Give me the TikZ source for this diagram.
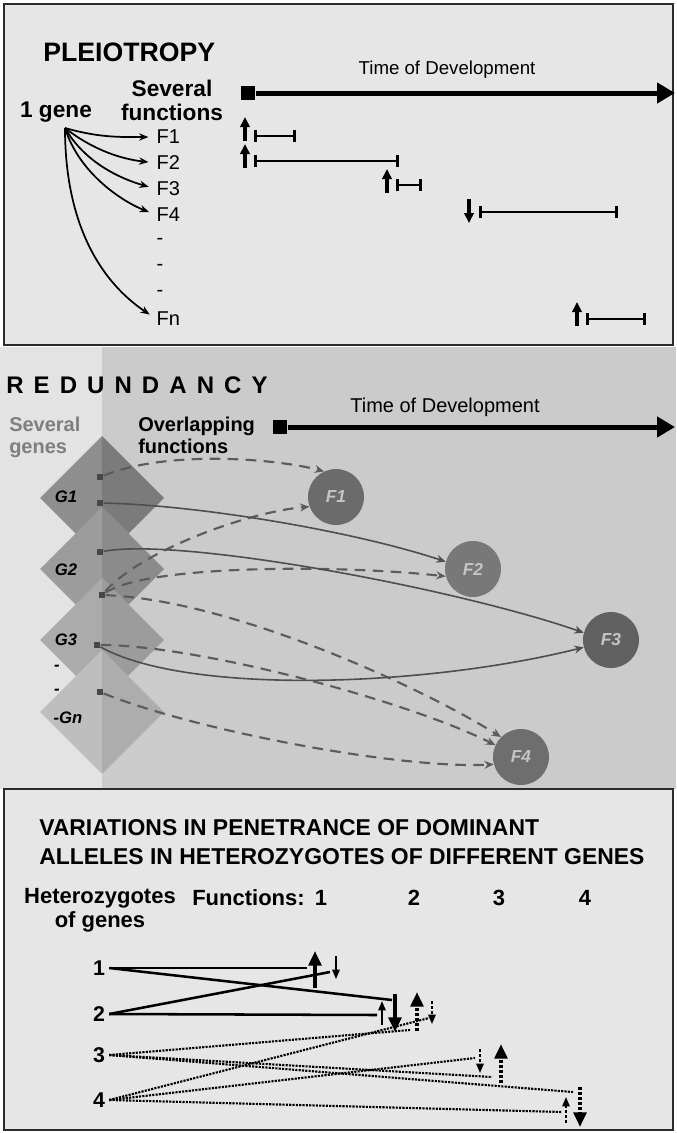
\documentclass[tikz,border=0pt]{standalone}
\usepackage{fontspec}
\setmainfont{Liberation Sans}
\newfontfamily\spacedfont[LetterSpace=42]{Liberation Sans}
\usepackage{tikz}
\usetikzlibrary{arrows.meta, positioning, shapes.geometric}
\definecolor{paper}{HTML}{E6E6E6}
\definecolor{stripbg}{HTML}{E3E3E3}
\definecolor{redbg}{HTML}{CBCBCB}
\definecolor{rim}{HTML}{2B2B2B}
\definecolor{genegray}{HTML}{7F7F7F}
\definecolor{fntext}{HTML}{C4C4C4}
\definecolor{wire}{HTML}{5C5C5C}
\definecolor{gal}{HTML}{8E8E8E}\definecolor{gar}{HTML}{7B7B7B}
\definecolor{gbl}{HTML}{9C9C9C}\definecolor{gbr}{HTML}{8B8B8B}
\definecolor{gcl}{HTML}{ABABAB}\definecolor{gcr}{HTML}{9C9C9C}
\definecolor{gnl}{HTML}{BEBEBE}\definecolor{gnr}{HTML}{ADADAD}
\newcommand{\fsz}[2]{\fontsize{#1}{#2}\selectfont}
\tikzset{
  panel/.style    = {fill=paper, draw=rim, line width=1.5pt},
  hd/.style       = {font=\fsz{20}{24}\bfseries, inner sep=0pt, anchor=west},
  toplab/.style   = {font=\fsz{17}{18}\bfseries, inner sep=0pt},
  sidelab/.style  = {font=\fsz{15}{16.5}\bfseries, inner sep=0pt, align=left, anchor=west},
  tlab/.style     = {font=\fsz{15}{18}, inner sep=0pt},
  tstart/.style   = {rectangle, fill=black, minimum size=11pt, inner sep=0pt},
  tbar/.style     = {line width=3.75pt, -{Triangle[length=13.5pt,width=15pt]}},
  flab/.style     = {font=\fsz{15}{18}, inner sep=0pt, text width=20pt, align=left,
                     minimum height=19.1pt},
  pleio/.style    = {line width=1.3pt, shorten >=6pt, -{Stealth[length=7pt,width=5.5pt]}},
  onset/.style    = {line width=2.4pt, -{Triangle[length=7.5pt,width=7pt]}},
  fbar/.style     = {line width=1.6pt,
                     {Bar[width=9pt,line width=2.2pt]}-{Bar[width=9pt,line width=2.2pt]}},
  gene/.style 2 args = {diamond, aspect=1, minimum width=93pt, minimum height=93pt,
                     inner sep=0pt, fill=#1,
                     path picture={\fill[#2] (path picture bounding box.north)
                       rectangle (path picture bounding box.south east);}},
  glab/.style     = {font=\fsz{12.5}{15}\bfseries\itshape, inner sep=0pt},
  port/.style     = {rectangle, fill=black!72, minimum size=5pt, inner sep=0pt},
  func/.style     = {circle, minimum size=42pt, inner sep=0pt, text=fntext,
                     font=\fsz{13}{15}\bfseries\itshape},
  dlink/.style    = {draw=wire, line width=1.6pt, dash pattern=on 8pt off 5.5pt,
                     -{Stealth[length=7pt,width=6pt]}},
  slink/.style    = {draw=wire!85!black, line width=1.2pt, -{Stealth[length=7pt,width=6pt]}},
  titlelab/.style = {font=\fsz{17.2}{21.75}\bfseries, inner sep=0pt, align=left, anchor=west},
  hlab/.style     = {font=\fsz{16.5}{18}\bfseries, inner sep=0pt},
  rowlab/.style   = {font=\fsz{16}{18}\bfseries, inner sep=3pt},
  hsolid/.style   = {line width=1.9pt},
  hdot/.style     = {line width=1.6pt, dash pattern=on 1.6pt off 0.9pt},
  pstrong/.style  = {line width=3pt, -{Triangle[length=11pt,width=9.5pt]}},
  pweak/.style    = {line width=1.3pt, -{Triangle[length=7pt,width=5.5pt]}},
  dotstem/.style  = {dash pattern=on 2.4pt off 1.4pt},
}

\begin{document}
\begin{tikzpicture}[x=0.75pt, y=-0.75pt]
  \useasboundingbox (0,0) rectangle (676,1133);

  % pleiotropy
  \begin{scope}
    \draw[panel] (4,4) rectangle (673,345);
    \node[hd] (pleio) at (43,52) {PLEIOTROPY};
    \node[toplab] (gene) at (56,112) {1 gene};
    \node[toplab, align=center] (several) at (172,100) {Several\\functions};
    \coordinate (hub) at (65,128);
    \node[flab] (f1) at (170,137) {F1};
    \node[flab, below=0pt of f1] (f2) {F2};
    \node[flab, below=0pt of f2] (f3) {F3};
    \node[flab, below=0pt of f3] (f4) {F4};
    \node[flab, below=0pt of f4] (d1) {-};
    \node[flab, below=0pt of d1] (d2) {-};
    \node[flab, below=0pt of d2] (d3) {-};
    \node[flab, below=0pt of d3] (fn) {Fn};
    \draw[pleio] (hub) .. controls +(35,10) and +(-35,0) .. (f1.west);
    \draw[pleio] (hub) .. controls +(28,22) and +(-35,-4) .. (f2.west);
    \draw[pleio] (hub) .. controls +(20,35) and +(-35,-10) .. (f3.west);
    \draw[pleio] (hub) .. controls +(14,45) and +(-35,-14) .. (f4.west);
    \draw[pleio] (hub) .. controls +(0,110) and +(-45,-30) .. (fn.west);
    \node[tlab, font=\fsz{14}{17}] (time1) at (447,70) {Time of Development};
    \node[tstart] (t0) at (248,93) {};
    \coordinate (tend) at (675,93);
    \draw[tbar] (t0) -- (tend);
    % onsets and durations
    \draw[onset] (245,141) -- (245,117);
    \draw[fbar] (254,136) -- (296,136);
    \draw[onset] (245,168) -- (245,144);
    \draw[fbar] (254,161) -- (399,161);
    \draw[onset] (387,193) -- (387,169);
    \draw[fbar] (396,185) -- (422,185);
    \draw[onset] (469,199) -- (469,223);
    \draw[fbar] (479,212) -- (618,212);
    \draw[onset] (577,326) -- (577,302);
    \draw[fbar] (586,319) -- (646,319);
  \end{scope}

  % redundancy
  \begin{scope}
    \fill[redbg] (0,347) rectangle (676,789);
    \fill[stripbg] (0,347) rectangle (102,789);
    \node[font=\fsz{18}{20}\bfseries\spacedfont, inner sep=0pt, anchor=west] (redund)
      at (6,385) {REDUNDANCY};
    \node[sidelab, text=genegray] (sevgenes) at (9,437) {Several\\genes};
    \node[sidelab] (overlap) at (138,435) {Overlapping\\functions};
    \node[tlab] (time2) at (445,407) {Time of Development};
    \node[tstart] (u0) at (280,427) {};
    \coordinate (uend) at (675,427);
    \draw[tbar] (u0) -- (uend);
    \node[gene={gal}{gar}] (G1) at (102,498) {};
    \node[gene={gbl}{gbr}] (G2) at (102,569) {};
    \node[gene={gcl}{gcr}] (G3) at (102,640) {};
    \node[gene={gnl}{gnr}] (Gn) at (102,712) {};
    \node[glab] (g1lab) at (66,497) {G1};
    \node[glab] (g2lab) at (66,570) {G2};
    \node[glab] (g3lab) at (66,640) {G3};
    \node[glab] (gd1) at (57,668) {-};
    \node[glab] (gd2) at (57,692) {-};
    \node[glab] (gnlab) at (68,718) {-Gn};
    \node[port] (pA) at (100,477) {};
    \node[port] (pB) at (100,503) {};
    \node[port] (pC) at (100,552) {};
    \node[port] (pD) at (102,595) {};
    \node[port] (pE) at (97,645) {};
    \node[port] (pF) at (100,692) {};
    \node[func, fill=black!58] (F1) at (336,497) {F1};
    \node[func, fill=black!53] (F2) at (473,569) {F2};
    \node[func, fill=black!62] (F3) at (611,640) {F3};
    \node[func, fill=black!57] (F4) at (521,757) {F4};
    \draw[dlink] (pA) .. controls +(70,-28) and +(-45,-12) .. (F1.115);
    \draw[dlink] (pD) .. controls +(40,-45) and +(-60,5) .. (F1.200);
    \draw[dlink] (pD) .. controls +(45,-30) and +(-110,-12) .. (F2.195);
    \draw[slink] (pB) .. controls +(100,2) and +(-90,-30) .. (F2.165);
    \draw[slink] (pC) .. controls +(80,-15) and +(-130,-45) .. (F3.165);
    \draw[dlink] (pD) .. controls +(130,5) and +(-80,-50) .. (F4.135);
    \draw[dlink] (pE) .. controls +(100,0) and +(-90,-45) .. (F4.155);
    \draw[slink] (pE) .. controls +(90,50) and +(-160,40) .. (F3.195);
    \draw[dlink] (pF) .. controls +(100,40) and +(-90,5) .. (F4.195);
  \end{scope}

  % penetrance
  \begin{scope}
    \draw[panel] (4,789) rectangle (673,1130);
    \node[titlelab] (vtitle) at (39,842)
      {VARIATIONS IN PENETRANCE OF DOMINANT\\ALLELES IN HETEROZYGOTES OF DIFFERENT GENES};
    \node[hlab, align=center] (het) at (100,910) {Heterozygotes\\of genes};
    \node[hlab, anchor=west] (funs) at (192,898) {Functions:};
    \node[hlab] (c1) at (321,898) {1};
    \node[hlab] (c2) at (414,898) {2};
    \node[hlab] (c3) at (499,898) {3};
    \node[hlab] (c4) at (585,898) {4};
    \node[rowlab] (h1) at (99,968) {1};
    \node[rowlab] (h2) at (99,1014) {2};
    \node[rowlab] (h3) at (99,1055) {3};
    \node[rowlab] (h4) at (99,1100) {4};
    \coordinate (e1) at (307,968);
    \coordinate (e2) at (392,1000);
    \coordinate (e3) at (330,972);
    \coordinate (e4) at (377,1015);
    \coordinate (e5) at (410,1030);
    \coordinate (e6) at (429,1018);
    \coordinate (e7) at (475,1058);
    \coordinate (e8) at (492,1077);
    \coordinate (e9) at (573,1092);
    \coordinate (e10) at (562,1112);
    \draw[hsolid] (h1.east) -- (e1);
    \draw[hsolid] (h1.east) -- (e2);
    \draw[hsolid] (h2.east) -- (e3);
    \draw[hsolid] (h2.east) -- (e4);
    \draw[hdot] (h3.east) -- (e5);
    \draw[hdot] (h4.east) -- (e6);
    \draw[hdot] (h4.east) -- (e7);
    \draw[hdot] (h3.east) -- (e8);
    \draw[hdot] (h3.east) -- (e9);
    \draw[hdot] (h4.east) -- (e10);
    % effect of each heterozygote
    \draw[pstrong] (315,988) -- (315,951);
    \draw[pweak] (336,956) -- (336,979);
    \draw[pstrong] (395,994) -- (395,1032);
    \draw[pweak] (382,1025) -- (382,1001);
    \draw[pstrong, dotstem] (417,1031) -- (417,992);
    \draw[pweak, dotstem] (432,1001) -- (432,1024);
    \draw[pweak, dotstem] (480,1049) -- (480,1073);
    \draw[pstrong, dotstem] (501,1083) -- (501,1044);
    \draw[pstrong, dotstem] (580,1087) -- (580,1127);
    \draw[pweak, dotstem] (566,1123) -- (566,1097);
  \end{scope}
\end{tikzpicture}
\end{document}
